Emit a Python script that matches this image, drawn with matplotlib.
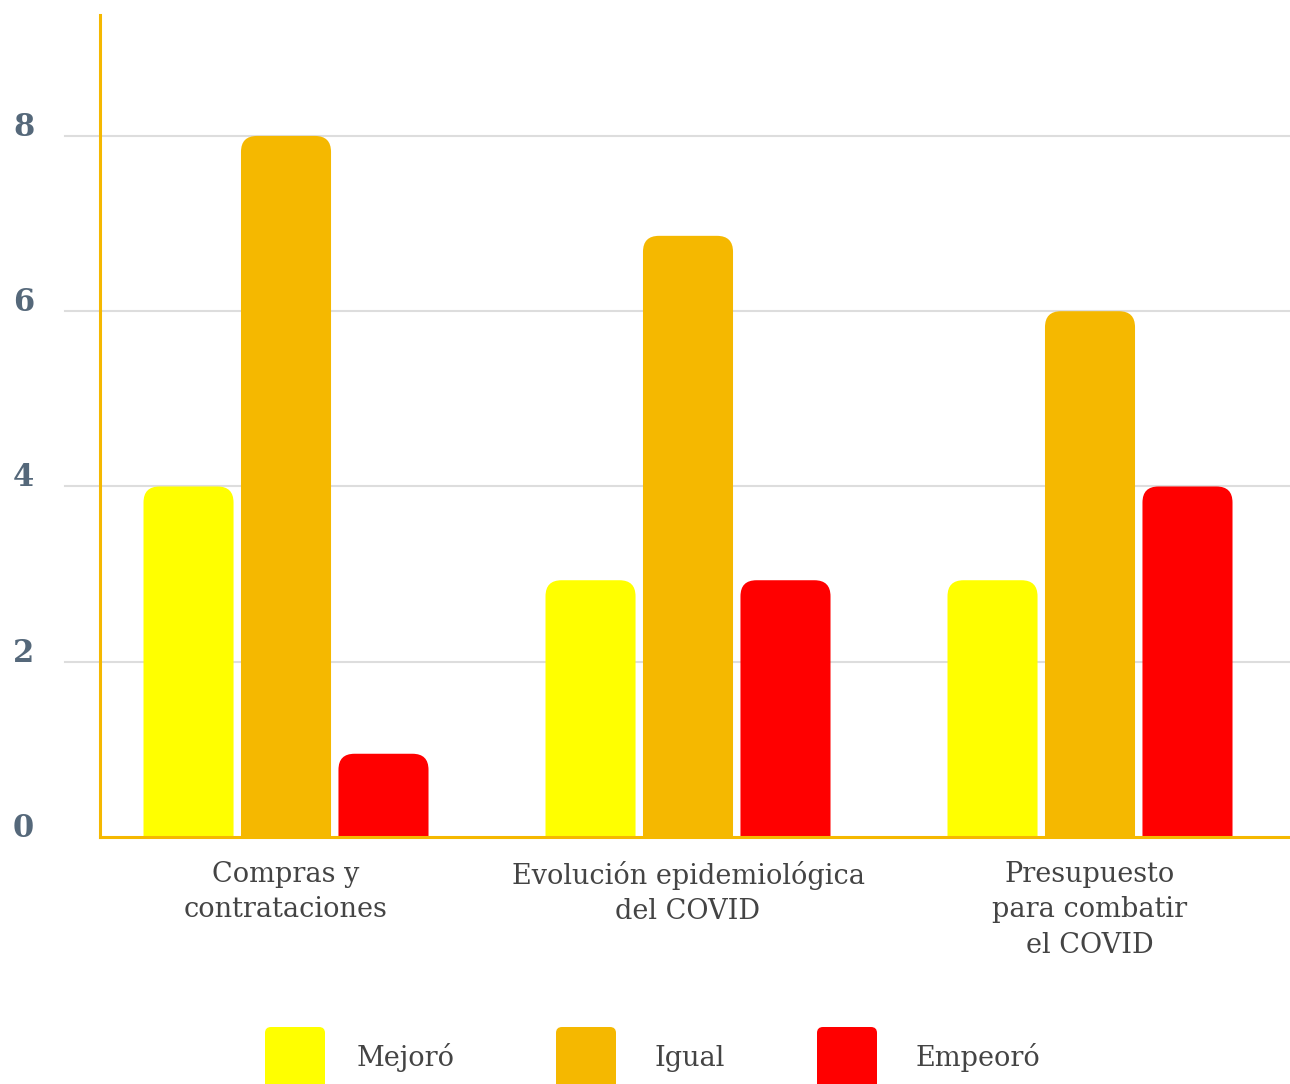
import matplotlib
matplotlib.use("Agg")
import matplotlib.pyplot as plt
from matplotlib.patches import FancyBboxPatch
from matplotlib.transforms import blended_transform_factory
import numpy as np

categories = ["Compras y\ncontrataciones", "Evolución epidemiológica\ndel COVID", "Presupuesto\npara combatir\nel COVID"]
series_names = ["Mejoró", "Igual", "Empeoró"]
mejoro = [4, 2.93, 2.93]
igual = [8, 6.86, 6]
empeoro = [0.95, 2.93, 4]
yticks = [0, 2, 4, 6, 8]

colors = ["#FFFF00", "#F5B800", "#FF0000"]
axis_color = "#F5B800"
tick_color = "#55687A"
text_color = "#444444"
font = "DejaVu Serif"

W, H = 1290, 1084
fig = plt.figure(figsize=(W / 100, H / 100), dpi=100)
ax = fig.add_axes([100 / W, (H - 837) / H, 1 - 100 / W, (837 - 15) / H])

ymax = 9.38
xlim = (-0.4627, 2.4975)
ax.set_xlim(*xlim)
ax.set_ylim(0, ymax)

# pixel scales
px_x = (1 - 100 / W) * W / (xlim[1] - xlim[0])
px_y = (837 - 15) / ymax
r_px = 16
rx = r_px / px_x
aspect = (r_px / px_y) / rx

bar_w = 0.224
step = 0.2425
x = np.arange(len(categories))
all_series = [mejoro, igual, empeoro]
for i, (vals, c) in enumerate(zip(all_series, colors)):
    for xi, v in zip(x, vals):
        left = xi + (i - 1) * step - bar_w / 2
        bottom = -0.5
        p = FancyBboxPatch((left, bottom), bar_w, v - bottom,
                           boxstyle=f"round,pad=0,rounding_size={rx}",
                           mutation_aspect=aspect,
                           facecolor=c, edgecolor="none", zorder=3)
        ax.add_patch(p)

# grid lines
for t in yticks[1:]:
    ax.axhline(t, color="#DDDDDD", lw=1.5, zorder=1, clip_on=False, xmin=-35 / 1190)

for s in ["top", "right"]:
    ax.spines[s].set_visible(False)
for s in ["left", "bottom"]:
    ax.spines[s].set_color(axis_color)
    ax.spines[s].set_linewidth(2.2)
    ax.spines[s].set_zorder(4)

ax.set_yticks([])
ax.tick_params(axis="x", length=0, pad=17)
ax.set_xticks(x)
ax.set_xticklabels(categories, fontsize=19.5, color=text_color, family=font,
                   linespacing=1.42, va="top")

trans = blended_transform_factory(fig.transFigure, ax.transData)
for t in yticks:
    ax.text(13 / W, t, str(t), transform=trans, ha="left", va="baseline",
            fontsize=22, fontweight="bold", color=tick_color, family=font)

# legend
sq_x = [265, 556, 817]
lab_x = [357, 655, 916]
for name, c, sx, lx in zip(series_names, colors, sq_x, lab_x):
    p = FancyBboxPatch((sx / W, (H - 1090) / H), 60 / W, 63 / H,
                       boxstyle=f"round,pad=0,rounding_size={6 / W}",
                       mutation_aspect=W / H,
                       transform=fig.transFigure, facecolor=c, edgecolor="none")
    fig.add_artist(p)
    fig.text(lx / W, (H - 1058) / H, name, ha="left", va="center",
             fontsize=19.5, color=text_color, family=font)

fig.savefig("out.png", dpi=100)
